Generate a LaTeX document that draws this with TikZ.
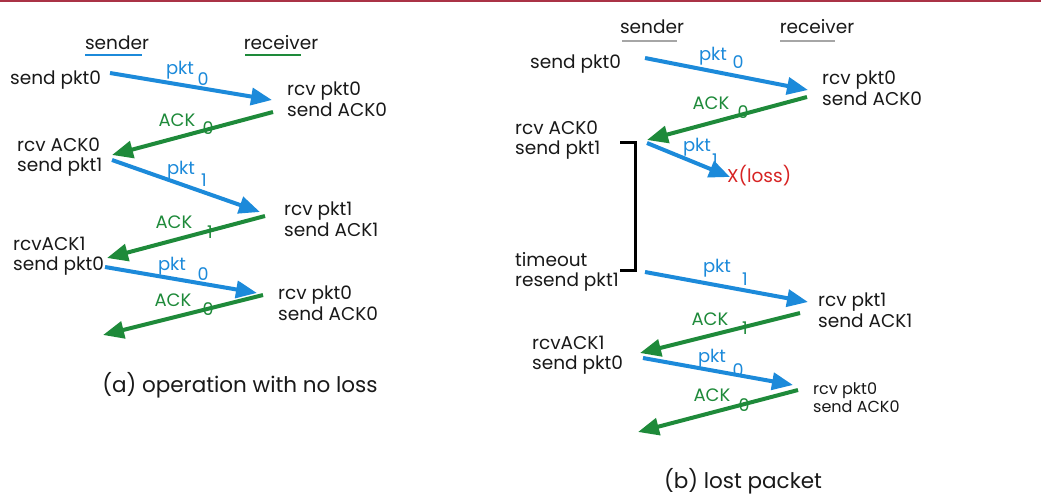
\documentclass[tikz,border=0pt]{standalone}
\usepackage{fontspec}
\setmainfont{Poppins}
\usetikzlibrary{arrows.meta}
\definecolor{pblue}{RGB}{28,138,218}
\definecolor{pgreen}{RGB}{30,138,58}
\definecolor{pred}{RGB}{215,35,35}
\definecolor{topred}{RGB}{170,50,70}
\definecolor{txtc}{RGB}{25,25,25}
\tikzset{
  txt/.style={font=\fontsize{18.5}{20.5}\selectfont, text=txtc, inner sep=0pt, align=left, anchor=west},
  smalltxt/.style={txt, font=\fontsize{16}{18}\selectfont},
  captxt/.style={font=\fontsize{21.5}{24}\selectfont, text=txtc, inner sep=0pt},
  hdr/.style={font=\fontsize{18.5}{20}\selectfont, text=txtc, inner sep=0pt},
  sarr/.style={pblue, line width=4pt, -{Triangle[length=21pt,width=17pt]}},
  garr/.style={pgreen, line width=4pt, -{Triangle[length=21pt,width=17pt]}},
  blbl/.style={text=pblue, font=\fontsize{18}{20}\selectfont, inner sep=0pt},
  glbl/.style={text=pgreen, font=\fontsize{18}{20}\selectfont, inner sep=0pt},
  bsub/.style={blbl, font=\fontsize{17.5}{19}\selectfont},
  gsub/.style={glbl, font=\fontsize{17.5}{19}\selectfont},
  uline/.style={line width=2.5pt},
}
\begin{document}
\begin{tikzpicture}[x=1pt,y=-1pt]
\useasboundingbox (0,0) rectangle (1041,503);
\fill[white] (0,0) rectangle (1041,503);
\draw[topred, line width=2pt] (0,1) -- (1041,1);

% ---------- panel (a) ----------
\node[hdr] (asnd) at (117,43) {sender};
\node[hdr] (arcv) at (281,43) {receiver};
\coordinate (asu1) at (85,55); \coordinate (asu2) at (142,55);
\coordinate (aru1) at (245,55); \coordinate (aru2) at (301,55);
\draw[uline, pblue] (asu1) -- (asu2);
\draw[uline, pgreen] (aru1) -- (aru2);

\node[txt] (a1) at (10,80) {send pkt0};
\node[txt] (a2) at (287,99) {rcv pkt0\\send ACK0};
\node[txt] (a3) at (17,157) {rcv ACK0\\send pkt1};
\node[txt] (a4) at (284,219) {rcv pkt1\\send ACK1};
\node[txt] (a5) at (13,256) {rcvACK1\\send pkt0};
\node[txt] (a6) at (278,303) {rcv pkt0\\send ACK0};
\node[captxt] (acap) at (240,385) {(a) operation with no loss};

\coordinate (aA1) at (110,73);  \coordinate (aA2) at (272,100);
\coordinate (aB1) at (273,112); \coordinate (aB2) at (112,155);
\coordinate (aC1) at (112,160); \coordinate (aC2) at (260,212);
\coordinate (aD1) at (265,216); \coordinate (aD2) at (107,258);
\coordinate (aE1) at (105,267); \coordinate (aE2) at (257,293);
\coordinate (aF1) at (263,295); \coordinate (aF2) at (103,335);
\draw[sarr] (aA1) -- (aA2);
\draw[garr] (aB1) -- (aB2);
\draw[sarr] (aC1) -- (aC2);
\draw[garr] (aD1) -- (aD2);
\draw[sarr] (aE1) -- (aE2);
\draw[garr] (aF1) -- (aF2);

\node[blbl] (la1) at (180,70) {pkt};  \node[bsub] (la1s) at (203,79) {0};
\node[glbl] (la2) at (177,120) {ACK}; \node[gsub] (la2s) at (208,128) {0};
\node[blbl] (la3) at (181,170) {pkt}; \node[bsub] (la3s) at (204,180) {1};
\node[glbl] (la4) at (174,222) {ACK}; \node[gsub] (la4s) at (210,232) {1};
\node[blbl] (la5) at (172,266) {pkt}; \node[bsub] (la5s) at (203,274) {0};
\node[glbl] (la6) at (173,300) {ACK}; \node[gsub] (la6s) at (208,309) {0};

% ---------- panel (b) ----------
\node[hdr] (bsnd) at (652,27) {sender};
\node[hdr] (brcv) at (817,27) {receiver};
\coordinate (bsu1) at (622,41); \coordinate (bsu2) at (677,41);
\coordinate (bru1) at (780,41); \coordinate (bru2) at (835,41);
\draw[uline, gray!70] (bsu1) -- (bsu2);
\draw[uline, gray!70] (bru1) -- (bru2);

\node[txt] (b1) at (530,64) {send pkt0};
\node[txt] (b2) at (822,88) {rcv pkt0\\send ACK0};
\node[txt] (b3) at (515,140) {rcv ACK0\\send pkt1};
\node[txt] (b4) at (515,272) {timeout\\resend pkt1};
\node[txt] (b5) at (818,310) {rcv pkt1\\send ACK1};
\node[txt] (b6) at (532,355) {rcvACK1\\send pkt0};
\node[smalltxt] (b7) at (813,398) {rcv pkt0\\send ACK0};
\node[txt, text=pred] (loss) at (727,176) {X(loss)};
\node[captxt] (bcap) at (743,481) {(b) lost packet};

\coordinate (br1) at (620,142); \coordinate (br2) at (635,142);
\coordinate (br3) at (635,270); \coordinate (br4) at (620,270);
\draw[line width=3pt, black] (br1) -- (br2) -- (br3) -- (br4);

\coordinate (bA1) at (645,58);  \coordinate (bA2) at (808,90);
\coordinate (bB1) at (807,97);  \coordinate (bB2) at (647,140);
\coordinate (bC1) at (647,143); \coordinate (bC2) at (730,177);
\coordinate (bD1) at (645,272); \coordinate (bD2) at (808,302);
\coordinate (bE1) at (800,313); \coordinate (bE2) at (640,353);
\coordinate (bF1) at (643,358); \coordinate (bF2) at (793,385);
\coordinate (bG1) at (798,390); \coordinate (bG2) at (638,432);
\draw[sarr] (bA1) -- (bA2);
\draw[garr] (bB1) -- (bB2);
\draw[sarr] (bC1) -- (bC2);
\draw[sarr] (bD1) -- (bD2);
\draw[garr] (bE1) -- (bE2);
\draw[sarr] (bF1) -- (bF2);
\draw[garr] (bG1) -- (bG2);

\node[blbl] (lb1) at (713,56) {pkt};  \node[bsub] (lb1s) at (738,62) {0};
\node[glbl] (lb2) at (711,103) {ACK}; \node[gsub] (lb2s) at (743,112) {0};
\node[blbl] (lb3) at (697,147) {pkt}; \node[bsub] (lb3s) at (715,160) {1};
\node[blbl] (lb4) at (717,268) {pkt}; \node[bsub] (lb4s) at (745,279) {1};
\node[glbl] (lb5) at (710,319) {ACK}; \node[gsub] (lb5s) at (745,328) {1};
\node[blbl] (lb6) at (712,358) {pkt}; \node[bsub] (lb6s) at (738,370) {0};
\node[glbl] (lb7) at (712,395) {ACK}; \node[gsub] (lb7s) at (744,405) {0};
\end{tikzpicture}
\end{document}
